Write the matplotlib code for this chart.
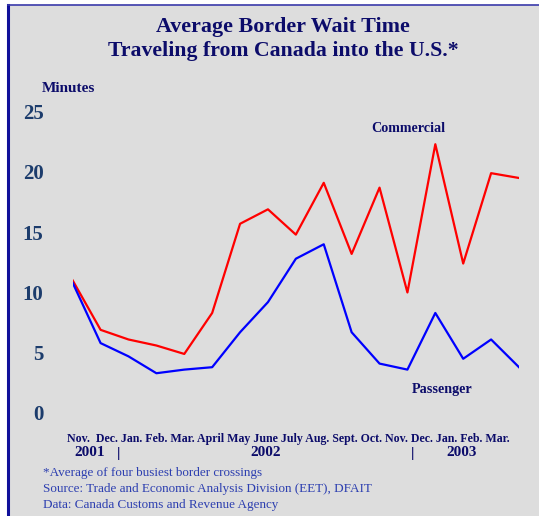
import numpy as np
import matplotlib
matplotlib.use("Agg")
import matplotlib.pyplot as plt
from matplotlib.patches import Rectangle

months = ["Nov.", "Dec.", "Jan.", "Feb.", "Mar.", "April", "May", "June", "July",
          "Aug.", "Sept.", "Oct.", "Nov.", "Dec.", "Jan.", "Feb.", "Mar."]
commercial = [11.0, 6.9, 6.1, 5.6, 4.9, 8.3, 15.7, 16.9, 14.8, 19.1, 13.2,
              18.7, 10.0, 22.3, 12.4, 19.9, 19.5]
passenger = [10.8, 5.8, 4.7, 3.3, 3.6, 3.8, 6.7, 9.2, 12.8, 14.0, 6.7,
             4.1, 3.6, 8.3, 4.5, 6.1, 3.8]
yticks = [0, 5, 10, 15, 20, 25]

W, H = 539, 516
bg = "#dddddd"
navy = "#0c0c6a"
tick_col = "#1c3c6c"
foot_col = "#2d3fb0"
serif = ["Liberation Serif", "DejaVu Serif"]

fig = plt.figure(figsize=(W / 100, H / 100), dpi=100)
fig.patch.set_facecolor("white")

# grey panel with a navy border on the left and top
fig.patches.append(Rectangle((8 / W, 0), 1, (H - 5) / H, transform=fig.transFigure,
                             facecolor=bg, edgecolor="none", zorder=-5))
fig.add_artist(plt.Line2D([8 / W, 8 / W], [0, (H - 5) / H], transform=fig.transFigure,
                          color="#10109a", lw=2.2, zorder=-4))
fig.add_artist(plt.Line2D([8 / W, 1], [(H - 5) / H, (H - 5) / H], transform=fig.transFigure,
                          color="#3a3aaa", lw=1.2, zorder=-4))

x = np.arange(len(months))
left, right = 72.7 / W, 519 / W
bottom, top = (H - 413) / H, (H - 111.7) / H
ax = fig.add_axes([left, bottom, right - left, top - bottom])
ax.set_zorder(2)
ax.set_facecolor("none")
ax.plot(x, commercial, color="#ff0000", lw=1.6)
ax.plot(x, passenger, color="#0000ff", lw=1.6)
ax.set_xlim(0, len(months) - 1)
ax.set_ylim(0, 25)
for s in ax.spines.values():
    s.set_visible(False)
ax.set_xticks([])
ax.set_yticks(yticks)
ax.set_yticklabels([str(v) for v in yticks], fontfamily=serif, fontweight="bold",
                   fontsize=15, color=tick_col)
ax.tick_params(axis="y", length=0, pad=21)

fig.text(283 / W, 1 - 27 / H, "Average Border Wait Time", ha="center", va="center",
         fontfamily=serif, fontweight="bold", fontsize=15.8, color=navy)
fig.text(283 / W, 1 - 51 / H, "Traveling from Canada into the U.S.*", ha="center",
         va="center", fontfamily=serif, fontweight="bold", fontsize=15.7, color=navy)
fig.text(42 / W, 1 - 88 / H, "Minutes", ha="left", va="center", fontfamily=serif,
         fontweight="bold", fontsize=11, color=navy)
fig.text(408 / W, 1 - 128 / H, "Commercial", ha="center", va="center", fontfamily=serif,
         fontweight="bold", fontsize=10.2, color=navy)
fig.text(442 / W, 1 - 390 / H, "Passenger", ha="center", va="center", fontfamily=serif,
         fontweight="bold", fontsize=10.2, color=navy)

fig.text(67 / W, 1 - 439 / H, "  ".join([months[0], " ".join(months[1:])]), ha="left",
         va="center", fontfamily=serif, fontweight="bold", fontsize=8.6, color=navy)
for xp, t in [(89.5, "2001"), (119, "|"), (266, "2002"), (412.7, "|"), (461.7, "2003")]:
    fig.text(xp / W, 1 - 453 / H, t, ha="center", va="center", fontfamily=serif,
             fontweight="bold", fontsize=11, color=navy)

notes = ["*Average of four busiest border crossings",
         "Source: Trade and Economic Analysis Division (EET), DFAIT",
         "Data: Canada Customs and Revenue Agency"]
for i, t in enumerate(notes):
    fig.text(43 / W, 1 - (473 + 16 * i) / H, t, ha="left", va="center", fontfamily=serif,
             fontsize=9.45, color=foot_col)

fig.savefig("out.png", dpi=100, facecolor=fig.get_facecolor())
